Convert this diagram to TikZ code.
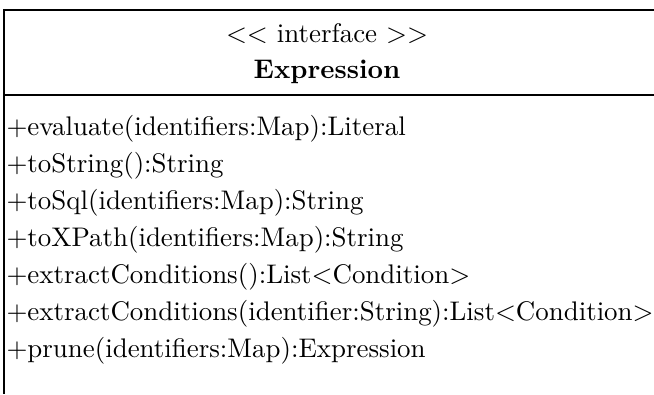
\documentclass[tikz,border=0pt]{standalone}
\begin{document}
\begin{tikzpicture}[x=0.3715pt,y=-0.3715pt]
        \useasboundingbox (0,0) rectangle (654,394);
        \draw[line width=0.7pt](654,10)--(4,10)--(4,394);
        \draw[line width=0.7pt](4,95)--(654,95);
        \node[anchor=base](st)at(327,42){$<<$ interface $>>$};
        \node[anchor=base,font=\bfseries](nm)at(327,78.5){Expression};
        \foreach \t [count=\i from 0] in {evaluate(identifiers:Map):Literal,toString():String,toSql(identifiers:Map):String,toXPath(identifiers:Map):String,extractConditions():List$<$Condition$>$,extractConditions(identifier:String):List$<$Condition$>$,prune(identifiers:Map):Expression}
            \node[anchor=base west,inner sep=0pt](op\i)at(6,135+37.1*\i){$+$\t};
    \end{tikzpicture}
\end{document}
